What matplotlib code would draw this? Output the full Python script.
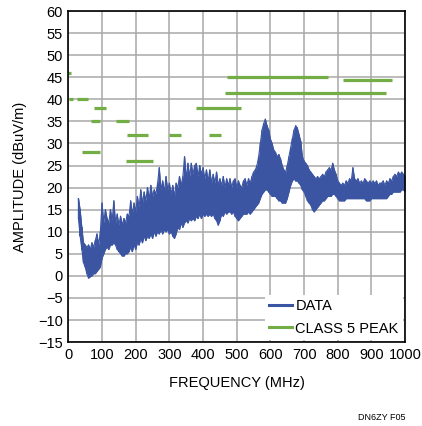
import numpy as np
import matplotlib
matplotlib.use("Agg")
import matplotlib.pyplot as plt
from matplotlib.lines import Line2D

plt.rcParams['font.family'] = ['Liberation Sans', 'DejaVu Sans']

# measured spectrum: frequency (MHz), upper and lower envelope (dBuV/m)
freq = np.arange(30, 1001, 5)
peak = [
    17.5, 15, 11, 7.5, 7, 6.5, 7, 6, 7.5, 6.5,
    8, 9.5, 7, 10, 16.5, 12, 15, 13, 12, 15,
    12.5, 17, 12, 14, 11.5, 13.5, 11.5, 13, 12, 14,
    13.5, 17, 14, 16.5, 14.5, 18, 15.5, 19.5, 16.5, 19,
    17, 20, 17.5, 20.5, 18, 19.5, 18.5, 21, 24.5, 19.5,
    21.5, 19, 22.5, 19.5, 21, 18.5, 20.5, 18, 21, 20,
    22.5, 20.5, 22.5, 27, 22, 25.5, 22.5, 25.5, 23, 25,
    25.5, 22.5, 25, 23, 24.5, 22, 24, 21.5, 24, 21,
    23, 21, 23.5, 20.5, 22, 20.5, 22.5, 20, 22, 20.5,
    22, 20, 21.5, 22, 20, 21.5, 20.5, 20, 21.5, 22,
    20.5, 22, 21, 22.5, 23.5, 24, 25, 27, 30, 33,
    34.5, 35.5, 34, 33, 31, 30, 28.5, 28, 27, 27.5,
    26.5, 25, 24, 23.5, 25, 27, 29, 31, 33, 34,
    33.5, 32, 30.5, 27, 26, 25.5, 25, 24, 23.5, 23,
    22.5, 22, 22.5, 22, 22.5, 23, 22.5, 23.5, 24, 24.5,
    24, 25.5, 24, 23, 21.5, 21, 20.5, 21, 20.5, 21.5,
    21, 22, 21.5, 24.5, 22, 21.5, 22, 21, 21.5, 21,
    22, 21.5, 21, 21.5, 21, 21.5, 21, 21.5, 20.5, 21,
    21, 21.5, 20.5, 21.5, 21, 22, 21.5, 22.5, 23, 22.5,
    23.5, 23, 23.5, 23, 22.5,
]
floor = [
    13, 9, 6, 3, 2, 0.5, -0.5, -0.2, 0, 0.5,
    0.5, 1, 1.5, 2, 4, 5, 6, 6.5, 6, 7,
    7, 7.5, 7, 6, 5.5, 5, 4.5, 4.5, 5, 5,
    5.5, 6.5, 5.5, 7, 6, 7.5, 7, 8.5, 7.5, 9,
    8, 9, 8.5, 9.5, 8.5, 10, 9, 10, 9.5, 10.5,
    9.5, 10.5, 10, 10.5, 9.5, 10, 9, 8.5, 9.5, 11,
    10.5, 12, 11, 12, 12.5, 12, 13, 12.5, 13, 12.5,
    13.5, 13, 14, 13, 14, 13.5, 14, 13.5, 14, 13.5,
    14, 13, 12.5, 11.5, 12.5, 14, 13.5, 14.5, 14, 14.5,
    14.5, 14, 14.5, 13.5, 13, 12.5, 13, 13.5, 14, 14,
    14, 14.5, 14, 14.5, 15, 15.5, 16, 16.5, 17.5, 18.5,
    19, 19.5, 19.5, 19, 18.5, 18, 18, 18, 17.5, 17,
    17, 16.5, 16.5, 16.5, 17.5, 19, 20.5, 21.5, 22, 21.5,
    21.5, 21, 20.5, 19.5, 19, 18, 17, 16.5, 16, 15,
    14.5, 15, 15.5, 16, 16.5, 17, 17, 17.5, 18, 18,
    18, 18.5, 18.5, 18, 17.5, 17, 17, 17, 17, 17.5,
    17.5, 17.5, 17.5, 17.5, 17.5, 17.5, 17.5, 17.5, 17.5, 17.5,
    17.5, 17, 17, 17, 17.5, 17.5, 17.5, 17.5, 17.5, 17.5,
    17.5, 17.5, 17.5, 17.5, 18, 18.5, 18.5, 19, 19, 19,
    19, 19, 19.5, 19.5, 19,
]

# CLASS 5 peak limit segments: start (MHz), end (MHz), level (dBuV/m)
lim_start = [0, 2, 26, 76, 67, 141, 173, 299, 418, 41, 170, 378, 470, 465, 815]
lim_end = [7, 14, 59, 113, 93, 180, 235, 333, 453, 93, 250, 514, 771, 944, 962]
lim_level = [46, 40, 40, 38, 35, 35, 32, 32, 32, 28, 26, 38, 45, 41.4, 44.3]

xticks = np.arange(0, 1001, 100)
yticks = np.arange(-15, 61, 5)

blue = '#3b55a3'
green = '#72ad45'

fig = plt.figure(figsize=(4.22, 4.26), dpi=100)
ax = fig.add_axes([0.162, 0.197, 0.798, 0.777])

# noisy trace body
ax.fill_between(freq, floor, peak, color=blue, lw=0, zorder=3)
zx = np.repeat(freq, 2)
zy = np.column_stack([floor, peak]).ravel()
ax.plot(zx, zy, color=blue, lw=0.9, zorder=3)
ax.plot(freq, peak, color=blue, lw=0.8, zorder=3)
ax.plot(freq, floor, color=blue, lw=0.8, zorder=3)

for s, e, lv in zip(lim_start, lim_end, lim_level):
    ax.plot([s, e], [lv, lv], color=green, lw=2.3, solid_capstyle='butt', zorder=4)

ax.set_xlim(0, 1000)
ax.set_ylim(-15, 60)
ax.set_xticks(xticks)
ax.set_yticks(yticks)
ax.set_yticklabels([str(v).replace('-', '\u2212') for v in yticks])
ax.tick_params(length=0, labelsize=10.5, pad=4)
ax.grid(True, color='#a8a8a8', lw=1.1)
ax.set_axisbelow(True)
for sp in ax.spines.values():
    sp.set_color('black')
    sp.set_linewidth(1.2)
    sp.set_zorder(6)

ax.set_xlabel('FREQUENCY (MHz)', fontsize=10.5, labelpad=10)
ax.set_ylabel('AMPLITUDE (dBuV/m)', fontsize=10.5, labelpad=8)

handles = [Line2D([], [], color=blue, lw=2.2), Line2D([], [], color=green, lw=2.2)]
leg = ax.legend(handles, ['DATA', 'CLASS 5 PEAK'], loc='lower right',
                frameon=True, fontsize=10.5, handlelength=1.6, handletextpad=0.2,
                borderaxespad=0.15, borderpad=0.3, labelspacing=0.55)
leg.get_frame().set_edgecolor('none')
leg.get_frame().set_facecolor('white')
leg.get_frame().set_alpha(1)
leg.set_zorder(5)

fig.text(0.905, 0.02, 'DN6ZY F05', fontsize=6.5, ha='center', va='center')

fig.savefig('out.png', dpi=100)
